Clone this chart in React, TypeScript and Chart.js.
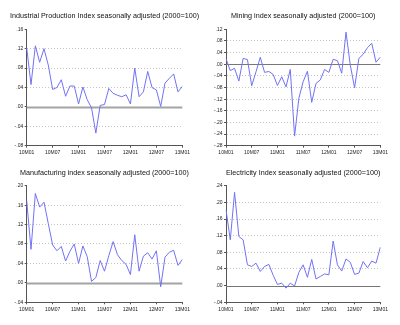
import React, { useEffect, useRef } from 'react';
import { Chart, registerables } from 'chart.js';

Chart.register(...registerables);

const months = [
  '10M01', '10M02', '10M03', '10M04', '10M05', '10M06', '10M07', '10M08', '10M09', '10M10', '10M11', '10M12',
  '11M01', '11M02', '11M03', '11M04', '11M05', '11M06', '11M07', '11M08', '11M09', '11M10', '11M11', '11M12',
  '12M01', '12M02', '12M03', '12M04', '12M05', '12M06', '12M07', '12M08', '12M09', '12M10', '12M11', '12M12',
  '13M01',
];
const tickLabels = ['10M01', '10M07', '11M01', '11M07', '12M01', '12M07', '13M01'];

const industrial = [
  0.122, 0.046, 0.126, 0.092, 0.120, 0.086, 0.036, 0.040, 0.056, 0.022, 0.043, 0.043,
  0.006, 0.041, 0.015, -0.002, -0.054, 0.003, 0.005, 0.038, 0.028, 0.024, 0.021, 0.025,
  0.006, 0.080, 0.021, 0.031, 0.073, 0.040, 0.035, 0.001, 0.049, 0.059, 0.068, 0.031,
  0.042,
];
const mining = [
  0.019, -0.022, -0.014, -0.058, 0.020, 0.016, -0.074, -0.026, 0.024, -0.028, -0.025, -0.035,
  -0.073, -0.043, -0.078, -0.018, -0.247, -0.117, -0.060, -0.024, -0.131, -0.066, -0.054, -0.018,
  -0.028, 0.017, 0.012, -0.031, 0.110, -0.003, -0.081, 0.020, 0.034, 0.057, 0.072, 0.007,
  0.024,
];
const manufacturing = [
  0.169, 0.069, 0.184, 0.156, 0.166, 0.122, 0.078, 0.066, 0.075, 0.045, 0.065, 0.080,
  0.040, 0.076, 0.054, 0.003, 0.011, 0.046, 0.024, 0.056, 0.085, 0.058, 0.046, 0.038,
  0.017, 0.099, 0.024, 0.055, 0.062, 0.049, 0.066, -0.008, 0.053, 0.063, 0.067, 0.036,
  0.048,
];
const electricity = [
  0.182, 0.110, 0.224, 0.118, 0.110, 0.050, 0.046, 0.054, 0.034, 0.046, 0.051, 0.025,
  0.003, 0.006, -0.006, 0.006, -0.001, 0.032, 0.050, 0.020, 0.063, 0.016, 0.022, 0.028,
  0.026, 0.107, 0.050, 0.035, 0.064, 0.056, 0.027, 0.030, 0.058, 0.043, 0.059, 0.054,
  0.092,
];

const FONT = "'Liberation Sans', Arial, sans-serif";
const LINE = '#7272f4';
const AXIS = '#555555';
const GRID = '#c4c4c4';
const TEXT = '#222222';

type PanelCfg = {
  title: string;
  data: number[];
  min: number;
  max: number;
  left: number;
  top: number;
  width: number;
  height: number;
  yWidth: number;
  padTop: number;
  padRight: number;
  xHeight: number;
  titleY: number;
  zeroColor: string;
  zeroWidth: number;
};

const panels: PanelCfg[] = [
  {
    title: 'Industrial Production Index seasonally adjusted (2000=100)',
    data: industrial, min: -0.08, max: 0.16,
    left: 0, top: 0, width: 200, height: 160,
    yWidth: 26.7, padTop: 29.3, padRight: 17.7, xHeight: 14.3, titleY: 16,
    zeroColor: '#a4a4a4', zeroWidth: 2,
  },
  {
    title: 'Mining index seasonally adjusted (2000=100)',
    data: mining, min: -0.28, max: 0.12,
    left: 200, top: 0, width: 200, height: 160,
    yWidth: 26, padTop: 29.3, padRight: 19.7, xHeight: 14.3, titleY: 16,
    zeroColor: '#777777', zeroWidth: 1.2,
  },
  {
    title: 'Manufacturing index seasonally adjusted (2000=100)',
    data: manufacturing, min: -0.04, max: 0.2,
    left: 0, top: 160, width: 200, height: 165,
    yWidth: 26.7, padTop: 25.7, padRight: 17.7, xHeight: 22.7, titleY: 13.3,
    zeroColor: '#a4a4a4', zeroWidth: 2,
  },
  {
    title: 'Electricity Index seasonally adjusted (2000=100)',
    data: electricity, min: -0.04, max: 0.24,
    left: 200, top: 160, width: 200, height: 165,
    yWidth: 26, padTop: 25.7, padRight: 19.7, xHeight: 22.7, titleY: 13.3,
    zeroColor: '#777777', zeroWidth: 1.2,
  },
];

const fmt = (v: number) => {
  if (Math.abs(v) < 1e-9) return '.00';
  return v.toFixed(2).replace(/^(-?)0\./, '$1.');
};

function Panel({ cfg }: { cfg: PanelCfg }) {
  const ref = useRef<HTMLCanvasElement>(null);
  useEffect(() => {
    const decor = {
      id: 'decor',
      beforeDatasetsDraw(chart: any) {
        const { ctx, chartArea } = chart;
        const y = Math.round(chart.scales.y.getPixelForValue(0)) + 0.5;
        ctx.save();
        ctx.strokeStyle = cfg.zeroColor;
        ctx.lineWidth = cfg.zeroWidth;
        ctx.beginPath();
        ctx.moveTo(chartArea.left, y);
        ctx.lineTo(chartArea.right, y);
        ctx.stroke();
        ctx.restore();
      },
      afterDraw(chart: any) {
        const { ctx, chartArea } = chart;
        ctx.save();
        ctx.font = `7.2px ${FONT}`;
        ctx.fillStyle = '#111111';
        ctx.textAlign = 'center';
        ctx.textBaseline = 'middle';
        ctx.fillText(cfg.title, (chartArea.left + chartArea.right) / 2, cfg.titleY);
        ctx.restore();
      },
    };
    const isEdge = (v: number) =>
      Math.abs(v) < 1e-9 || Math.abs(v - cfg.min) < 1e-9 || Math.abs(v - cfg.max) < 1e-9;
    const chart = new Chart(ref.current as HTMLCanvasElement, {
      type: 'line',
      data: {
        labels: months,
        datasets: [
          {
            data: cfg.data,
            borderColor: LINE,
            borderWidth: 1,
            pointRadius: 0,
            tension: 0,
            fill: false,
          },
        ],
      },
      options: {
        responsive: false,
        animation: false,
        devicePixelRatio: 1,
        layout: { padding: { left: 0, right: cfg.padRight, top: cfg.padTop, bottom: 0 } },
        plugins: {
          legend: { display: false },
          tooltip: { enabled: false },
          title: { display: false },
        },
        scales: {
          x: {
            type: 'category',
            offset: false,
            grid: {
              display: true,
              drawOnChartArea: false,
              drawTicks: true,
              tickLength: 2,
              tickColor: (c: any) =>
                tickLabels.includes(months[c.index]) ? AXIS : 'rgba(0,0,0,0)',
            },
            border: { display: true, color: AXIS, width: 1 },
            ticks: {
              autoSkip: false,
              maxRotation: 0,
              minRotation: 0,
              padding: 2,
              color: TEXT,
              font: { family: FONT, size: 5 },
              callback: (_v: any, i: number) =>
                tickLabels.includes(months[i]) ? months[i] : '',
            },
            afterFit: (s: any) => {
              s.height = cfg.xHeight;
            },
          },
          y: {
            type: 'linear',
            min: cfg.min,
            max: cfg.max,
            grid: {
              display: true,
              drawOnChartArea: true,
              drawTicks: true,
              tickLength: 2,
              lineWidth: 1,
              color: (c: any) => (c.tick && isEdge(c.tick.value) ? 'rgba(0,0,0,0)' : GRID),
              tickColor: AXIS,
            },
            border: { display: true, color: AXIS, width: 1, dash: [1, 2] },
            ticks: {
              stepSize: 0.04,
              padding: 1.5,
              color: TEXT,
              font: { family: FONT, size: 5 },
              callback: (v: any) => fmt(Number(v)),
            },
            afterFit: (s: any) => {
              s.width = cfg.yWidth;
            },
          },
        },
      } as any,
      plugins: [decor],
    });
    return () => chart.destroy();
  }, []);
  return (
    <canvas
      ref={ref}
      width={cfg.width}
      height={cfg.height}
      style={{
        position: 'absolute',
        left: cfg.left,
        top: cfg.top,
        width: cfg.width,
        height: cfg.height,
      }}
    />
  );
}

export default function App() {
  return (
    <div
      style={{
        position: 'absolute',
        left: 0,
        top: 0,
        width: 400,
        height: 325,
        background: '#ffffff',
        overflow: 'hidden',
      }}
    >
      {panels.map((p) => (
        <Panel key={p.title} cfg={p} />
      ))}
    </div>
  );
}
